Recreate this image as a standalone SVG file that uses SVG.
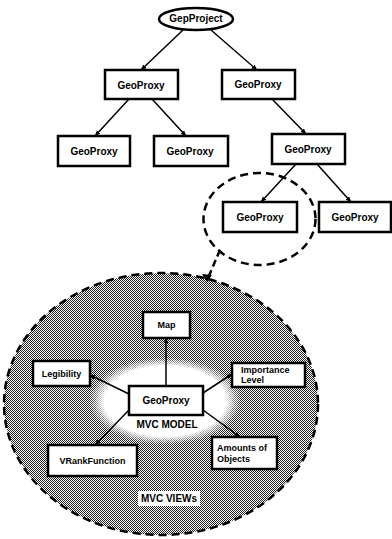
<svg xmlns="http://www.w3.org/2000/svg" width="392" height="539" viewBox="0 0 392 539">
<style>
.box{fill:#fff;stroke:#000;stroke-width:2.5}
.t{font-family:"Liberation Sans",Arial,sans-serif;font-weight:bold;font-size:10px;fill:#000;text-anchor:middle}
.ts{font-family:"Liberation Sans",Arial,sans-serif;font-weight:bold;font-size:9px;fill:#000}
.c{stroke:#000;stroke-width:1.5;fill:none;marker-end:url(#ah)}
.d{stroke:#000;stroke-width:2.5;fill:none;stroke-dasharray:8,5}
.big{fill:url(#chk)}
</style>
<defs>
<marker id="ah" viewBox="0 0 10 10" refX="9" refY="5" markerWidth="6" markerHeight="6" orient="auto" markerUnits="userSpaceOnUse">
<path d="M0,1 L10,5 L0,9 z" fill="#000"/>
</marker>
<pattern id="chk" width="2" height="2" patternUnits="userSpaceOnUse">
<rect width="2" height="2" fill="#fff"/>
<rect width="1" height="1" fill="#222"/>
<rect x="1" y="1" width="1" height="1" fill="#222"/>
</pattern>
<radialGradient id="wg">
<stop offset="0.8" stop-color="#fff" stop-opacity="1"/>
<stop offset="1" stop-color="#fff" stop-opacity="0"/>
</radialGradient>
</defs>

<g id="views-area">
<ellipse cx="161" cy="404" rx="157" ry="131" class="d big"/>
<ellipse cx="165" cy="401" rx="76" ry="44" fill="url(#wg)"/>
<rect x="138" y="491" width="62" height="15" fill="#fff"/>
<text class="t" x="169" y="502">MVC VIEWs</text>
</g>

<g id="connectors">
<line class="c" x1="183" y1="30" x2="141" y2="70"/>
<line class="c" x1="211" y1="30" x2="257" y2="70"/>
<line class="c" x1="129" y1="99" x2="95" y2="136"/>
<line class="c" x1="152" y1="99" x2="186" y2="136"/>
<line class="c" x1="272" y1="99" x2="306" y2="134"/>
<line class="c" x1="296" y1="164" x2="261" y2="202"/>
<line class="c" x1="317" y1="164" x2="351" y2="202"/>
<path d="M220,250 L208,278" stroke="#000" stroke-width="2.5" stroke-dasharray="7,4" fill="none"/>
<path d="M202,274 L207,282 L212,275 z" fill="#000"/>
<line class="c" x1="166" y1="386" x2="166" y2="338"/>
<line class="c" x1="129" y1="394" x2="90" y2="375"/>
<line class="c" x1="203" y1="393" x2="232" y2="374"/>
<line class="c" x1="129" y1="410" x2="95" y2="445"/>
<line class="c" x1="203" y1="410" x2="240" y2="437"/>
</g>

<g id="gepproject">
<ellipse cx="196" cy="19" rx="37" ry="11" class="box"/>
<text class="t" x="196" y="22">GepProject</text>
</g>
<g id="gp-l1-left">
<rect x="105" y="70" width="73" height="29" class="box"/>
<text class="t" x="141" y="89">GeoProxy</text>
</g>
<g id="gp-l1-right">
<rect x="222" y="70" width="73" height="29" class="box"/>
<text class="t" x="258" y="88">GeoProxy</text>
</g>
<g id="gp-l2-a">
<rect x="58" y="136" width="72" height="30" class="box"/>
<text class="t" x="94" y="155">GeoProxy</text>
</g>
<g id="gp-l2-b">
<rect x="154" y="136" width="74" height="30" class="box"/>
<text class="t" x="190" y="155">GeoProxy</text>
</g>
<g id="gp-l2-c">
<rect x="272" y="134" width="73" height="30" class="box"/>
<text class="t" x="308" y="153">GeoProxy</text>
</g>
<g id="gp-l3-a">
<ellipse cx="259.5" cy="219" rx="56" ry="46" class="d"/>
<rect x="223" y="202" width="74" height="30" class="box"/>
<text class="t" x="260" y="221">GeoProxy</text>
</g>
<g id="gp-l3-b">
<rect x="319" y="202" width="72" height="30" class="box"/>
<text class="t" x="355" y="221">GeoProxy</text>
</g>

<g id="map">
<rect x="143" y="312" width="47" height="26" class="box"/>
<text class="ts" x="166.5" y="328" text-anchor="middle">Map</text>
</g>
<g id="legibility">
<rect x="33" y="361" width="57" height="25" class="box"/>
<text class="ts" x="61.5" y="377" text-anchor="middle">Legibility</text>
</g>
<g id="importance">
<rect x="232" y="363" width="73" height="24" class="box"/>
<text class="ts" x="241" y="373">Importance</text>
<text class="ts" x="241" y="383">Level</text>
</g>
<g id="model">
<rect x="129" y="386" width="74" height="29" class="box"/>
<text class="t" x="166" y="404">GeoProxy</text>
<text class="t" x="167" y="428">MVC MODEL</text>
</g>
<g id="vrank">
<rect x="48" y="445" width="89" height="31" class="box"/>
<text class="ts" x="92.5" y="464" text-anchor="middle">VRankFunction</text>
</g>
<g id="amounts">
<rect x="212" y="437" width="65" height="32" class="box"/>
<text class="ts" x="217" y="451">Amounts of</text>
<text class="ts" x="217" y="462">Objects</text>
</g>
</svg>
